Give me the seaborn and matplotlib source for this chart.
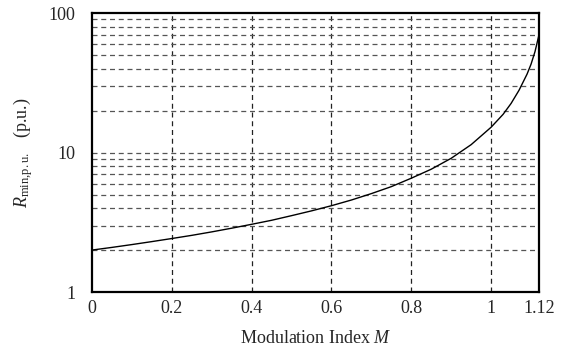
import matplotlib
matplotlib.use("Agg")
import matplotlib.pyplot as plt
import seaborn as sns
import pandas as pd
from matplotlib.ticker import FixedLocator, NullFormatter, FixedFormatter

modulation_index = [0.0, 0.05, 0.1, 0.15, 0.2, 0.25, 0.3, 0.35, 0.4, 0.45, 0.5,
                    0.55, 0.6, 0.65, 0.7, 0.75, 0.8, 0.85, 0.9, 0.95, 1.0,
                    1.03, 1.05, 1.07, 1.09, 1.1, 1.11, 1.12]
r_min = [2.0, 2.09, 2.19, 2.30, 2.42, 2.55, 2.70, 2.87, 3.06, 3.27, 3.53,
         3.82, 4.16, 4.57, 5.08, 5.70, 6.55, 7.6, 9.1, 11.4, 15.2,
         18.8, 22.5, 28.0, 36.5, 43.0, 53.0, 70.0]
x_ticks = [0, 0.2, 0.4, 0.6, 0.8, 1.0, 1.12]
x_tick_labels = ["0", "0.2", "0.4", "0.6", "0.8", "1", "1.12"]
y_ticks = [1, 10, 100]
y_tick_labels = ["1", "10", "100"]

df = pd.DataFrame({"M": modulation_index, "R": r_min})

sns.set_style("ticks")
plt.rcParams["font.family"] = ["Liberation Serif", "DejaVu Serif"]
plt.rcParams["mathtext.fontset"] = "custom"
plt.rcParams["mathtext.rm"] = "Liberation Serif"
plt.rcParams["mathtext.it"] = "Liberation Serif:italic"

fig = plt.figure(figsize=(5.69, 3.54), dpi=100)
ax = fig.add_axes([0.1617, 0.175, 0.7856, 0.788])

sns.lineplot(data=df, x="M", y="R", ax=ax, color="black", linewidth=1.0)

ax.set_yscale("log")
ax.set_xlim(0, 1.12)
ax.set_ylim(1, 100)

ax.xaxis.set_major_locator(FixedLocator(x_ticks))
ax.xaxis.set_major_formatter(FixedFormatter(x_tick_labels))
ax.yaxis.set_major_locator(FixedLocator(y_ticks))
ax.yaxis.set_major_formatter(FixedFormatter(y_tick_labels))
minors = [m * d for d in (1, 10) for m in range(2, 10)]
ax.yaxis.set_minor_locator(FixedLocator(minors))
ax.yaxis.set_minor_formatter(NullFormatter())

grid_kw = dict(linestyle=(0, (4, 3)), linewidth=0.9)
for xv in x_ticks[1:-1]:
    ax.axvline(xv, color="#222222", zorder=1, **grid_kw)
for yv in minors + [10]:
    ax.axhline(yv, color="#555555", zorder=1, **grid_kw)

ax.tick_params(which="both", length=0, labelsize=13)
ax.tick_params(axis="x", pad=6)
ax.tick_params(axis="y", pad=12)
for s in ax.spines.values():
    s.set_linewidth(1.6)
    s.set_color("black")

ax.set_xlabel("Modulation Index $M$", fontsize=13, labelpad=9)
ax.set_ylabel(r"$R_{\mathrm{min{,}p.u.}}$   (p.u.)", fontsize=13, labelpad=10)

fig.savefig("out.png", dpi=100)
